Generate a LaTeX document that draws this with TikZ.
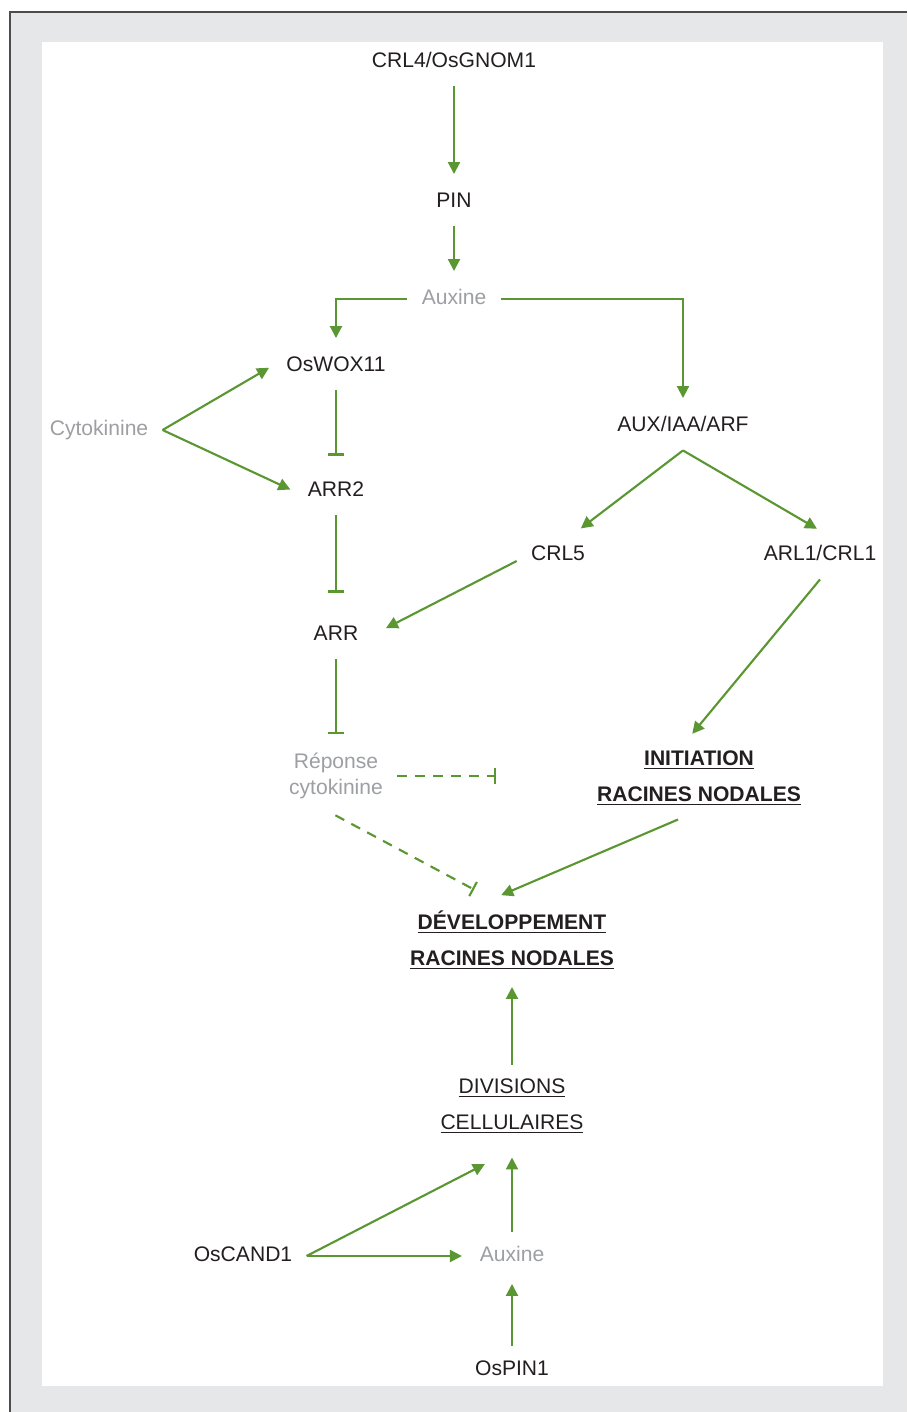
\documentclass[tikz,border=0pt]{standalone}
\usepackage{fontspec}
\setmainfont{Liberation Sans}
\usetikzlibrary{arrows.meta}
\definecolor{leaf}{RGB}{90,150,50}
\definecolor{ink}{RGB}{35,31,32}
\definecolor{haze}{RGB}{157,159,162}
\definecolor{panel}{RGB}{230,231,232}
\newcommand{\undl}[2]{\underline{#1}\\[6pt]\underline{#2}}

\begin{document}
\begin{tikzpicture}[x=0.02cm,y=-0.02cm,
      every node/.style={font=\fontsize{12}{14.4}\selectfont, inner sep=0.28cm},
      gene/.style={text=ink, text height=9pt, text depth=2.5pt},
      signal/.style={text=haze, text height=9pt, text depth=2.5pt},
      cloud/.style={text=haze, align=center},
      target/.style={text=ink, align=center, font=\fontsize{12}{14.4}\selectfont\bfseries},
      process/.style={text=ink, align=center},
      act/.style={draw=leaf, line width=1.2pt, -{Triangle[length=0.24cm,width=0.24cm]}, shorten >=2pt},
      inhib/.style={draw=leaf, line width=1.2pt, -{Bar[width=0.32cm]}, shorten >=0.22cm},
      weak/.style={inhib, dash pattern=on 0.2cm off 0.16cm}
      ]
      % frame
      \useasboundingbox (0,0) rectangle (907,1412);
      \fill[panel] (10,12) rectangle (907,1412);
      \fill[white] (42,42) rectangle (883,1386);
      \draw[black!70, line width=0.8pt] (10,1412) -- (10,12) -- (907,12);

      \node[gene] (crl4) at (454,62) {CRL4/OsGNOM1};
      \node[gene] (pin) at (454,202) {PIN};
      \node[signal] (auxA) at (454,299) {Auxine};
      \node[gene] (wox) at (336,366) {OsWOX11};
      \node[signal] (cyto) at (99,430) {Cytokinine};
      \node[gene] (aux) at (683,426) {AUX/IAA/ARF};
      \node[gene] (arr2) at (336,491) {ARR2};
      \node[gene] (crl5) at (558,555) {CRL5};
      \node[gene] (arl1) at (820,555) {ARL1/CRL1};
      \node[gene] (arr) at (336,635) {ARR};
      \node[cloud] (rep) at (336,776) {Réponse\\cytokinine};
      \node[target] (init) at (699,778) {\undl{INITIATION}{RACINES NODALES}};
      \node[target] (dev) at (512,940) {\undl{DÉVELOPPEMENT}{RACINES NODALES}};
      \node[process] (div) at (512,1106) {\undl{DIVISIONS}{CELLULAIRES}};
      \node[gene] (cand) at (243,1256) {OsCAND1};
      \node[signal] (auxB) at (512,1256) {Auxine};
      \node[gene] (ospin) at (512,1370) {OsPIN1};

      \draw[act] (crl4) -- (pin);
      \draw[act] (pin) -- (auxA);
      \draw[act] (auxA.west) -| (wox.north);
      \draw[act] (auxA.east) -| (aux.north);
      \draw[act] (cyto.east) -- (wox.west);
      \draw[act] (cyto.east) -- (arr2.west);
      \draw[inhib] (wox) -- (arr2);
      \draw[inhib, shorten >=0.36cm] (arr2) -- (arr);
      \draw[inhib, shorten >=0.1cm] (arr) -- (rep);
      \draw[act] (aux.south) -- ([xshift=0.4cm]crl5.north);
      \draw[act] (aux.south) -- (arl1.north);
      \draw[act, shorten >=0.3cm] ([yshift=-0.12cm]crl5.west) -- (arr.east);
      \draw[act] (arl1.south) -- ([xshift=-0.18cm]init.north);
      \draw[weak, shorten >=1.74cm] (rep.east) -- (rep.east -| init.west);
      \draw[weak, shorten <=0.1cm, shorten >=0pt] ([xshift=-0.1cm]rep.south) -- ([xshift=-0.76cm,yshift=0.14cm]dev.north);
      \draw[act] ([xshift=-0.42cm]init.south) -- ([xshift=-0.28cm]dev.north);
      \draw[act] (div) -- (dev);
      \draw[act] (cand.east) -- ([xshift=-0.48cm,yshift=-0.3cm]div.south);
      \draw[act] (cand.east) -- (auxB.west);
      \draw[act, shorten >=0.2cm] (auxB) -- (div);
      \draw[act] (ospin) -- (auxB);
\end{tikzpicture}
\end{document}
